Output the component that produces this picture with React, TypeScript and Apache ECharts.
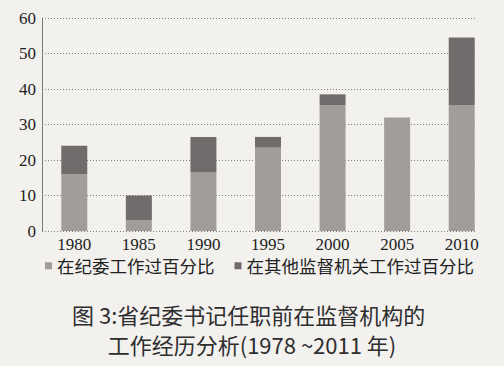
import React, { useEffect, useRef } from "react";
import * as echarts from "echarts";

const years = ["1980", "1985", "1990", "1995", "2000", "2005", "2010"];
const jiweiPct = [16, 3, 16.5, 23.5, 35.5, 32, 35.5];
const otherPct = [8, 7, 10, 3, 3, 0, 19];
const yTicks = [0, 10, 20, 30, 40, 50, 60];
const legendNames = ["在纪委工作过百分比", "在其他监督机关工作过百分比"];
const titleLines = ["图 3:省纪委书记任职前在监督机构的", "工作经历分析(1978 ~2011 年)"];

export default function App() {
  const ref = useRef<HTMLDivElement>(null);
  useEffect(() => {
    if (!ref.current) return;
    const chart = echarts.init(ref.current, undefined, { renderer: "svg" });
    const serif = "'Liberation Serif', 'DejaVu Serif', 'Noto Sans CJK SC', serif";
    chart.setOption({
      animation: false,
      backgroundColor: "#f3f1ee",
      textStyle: { fontFamily: serif },
      grid: [
        { left: 42, right: 29, top: 18, bottom: 135 },
        { left: 42, right: 10, top: 18, bottom: 135 },
      ],
      xAxis: [
        {
          type: "category",
          gridIndex: 0,
          data: years,
          axisLine: { show: false },
          axisTick: { show: false },
          axisLabel: { show: false },
        },
        {
          type: "category",
          gridIndex: 1,
          data: years,
          axisLine: { show: false },
          axisTick: { show: false },
          axisLabel: { color: "#222", fontSize: 17, margin: 5, fontFamily: serif },
        },
      ],
      yAxis: [
        {
          type: "value",
          gridIndex: 0,
          min: 0,
          max: 60,
          interval: 10,
          axisLine: { show: true, lineStyle: { color: "#7a7a7a", width: 1 } },
          axisTick: { show: false },
          axisLabel: {
            color: "#1e1e1e",
            fontSize: 17,
            margin: 6,
            fontFamily: serif,
            formatter: (v: number) => (yTicks.includes(v) ? String(v) : ""),
          },
          splitLine: { show: true, lineStyle: { color: "#7d7d7d", type: [1, 2], width: 1 } },
        },
        {
          type: "value",
          gridIndex: 1,
          min: 0,
          max: 60,
          interval: 10,
          show: false,
          splitLine: { show: false },
        },
      ],
      legend: {
        data: legendNames,
        left: 40,
        top: 252,
        icon: "rect",
        itemWidth: 7,
        itemHeight: 7,
        itemGap: 20,
        textStyle: { color: "#222", fontSize: 17.5, fontFamily: "'Noto Sans CJK SC', sans-serif" },
      },
      series: [
        {
          name: legendNames[0],
          type: "bar",
          stack: "total",
          xAxisIndex: 1,
          yAxisIndex: 1,
          barWidth: 26,
          data: jiweiPct,
          itemStyle: { color: "#a29d9b" },
        },
        {
          name: legendNames[1],
          type: "bar",
          stack: "total",
          xAxisIndex: 1,
          yAxisIndex: 1,
          barWidth: 26,
          data: otherPct,
          itemStyle: { color: "#716c6b" },
        },
      ],
      graphic: [
        {
          type: "text",
          left: 72,
          top: 303,
          style: {
            text: titleLines[0],
            fill: "#2e2e2e",
            font: "22px 'Noto Sans CJK SC', serif",
          },
        },
        {
          type: "text",
          left: "center",
          top: 333,
          style: {
            text: titleLines[1],
            fill: "#2e2e2e",
            font: "22px 'Noto Sans CJK SC', serif",
          },
        },
      ],
    });
    return () => chart.dispose();
  }, []);
  return (
    <div
      ref={ref}
      style={{ position: "fixed", left: 0, top: 0, width: 504, height: 366 }}
    />
  );
}
